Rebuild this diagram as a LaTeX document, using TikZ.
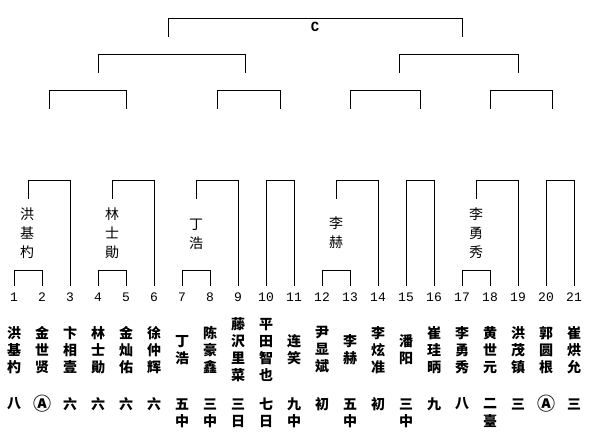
\documentclass[tikz,border=0pt]{standalone}
\usepackage{fontspec}
\newfontfamily\cjk{Noto Sans CJK SC}
\newfontfamily\monof{Liberation Mono}
\newcommand\circA{{\fontsize{18}{14}\selectfont Ⓐ}}
\tikzset{
  brk/.style={line width=1pt, line cap=rect},
  numlbl/.style={font=\monof\fontsize{13}{13}\selectfont, inner sep=0pt},
  namelbl/.style={font=\cjk\bfseries\fontsize{14}{17}\selectfont, align=center, inner sep=0pt},
  ranklbl/.style={font=\cjk\bfseries\fontsize{14}{14}\selectfont, inner sep=0pt},
  winlbl/.style={font=\cjk\fontsize{14}{19}\selectfont, align=center, inner sep=0pt},
  ctitle/.style={font=\monof\bfseries\fontsize{14}{14}\selectfont, inner sep=0pt}
}
\begin{document}
\begin{tikzpicture}[x=1pt,y=-1pt]
\useasboundingbox (0,0) rectangle (589,432);
% top level
\draw[brk] (168,36) -- (168,18) -- (462,18) -- (462,36);
\node[ctitle] (final) at (315,27) {C};
% second level
\draw[brk] (98,72) -- (98,54) -- (245,54) -- (245,72);
\draw[brk] (399,72) -- (399,54) -- (518,54) -- (518,72);
% third level
\foreach \a/\b in {49/126, 217/280, 350/420, 490/552}
  \draw[brk] (\a,108) -- (\a,90) -- (\b,90) -- (\b,108);
% fourth level: left short, right long
\foreach \a/\b in {28/70, 112/154, 196/238, 336/378, 476/518}
  \draw[brk] (\a,198) -- (\a,180) -- (\b,180) -- (\b,285);
% fourth level: boxes
\foreach \a/\b in {266/294, 406/434, 546/574}
  \draw[brk] (\a,285) -- (\a,180) -- (\b,180) -- (\b,285);
% bottom boxes
\foreach \a/\b in {14/42, 98/126, 182/210, 322/350, 462/490}
  \draw[brk] (\a,285) -- (\a,270) -- (\b,270) -- (\b,285);
% winners
\node[winlbl] (w1) at (27,233) {洪\\基\\杓};
\node[winlbl] (w2) at (112,233) {林\\士\\勛};
\node[winlbl] (w3) at (196,234) {丁\\浩};
\node[winlbl] (w4) at (336,233) {李\\赫};
\node[winlbl] (w5) at (476,233) {李\\勇\\秀};
% players
\foreach \i/\nm/\ra/\rb in {
  1/洪\\基\\杓/八/,
  2/金\\世\\贤/\circA/,
  3/卞\\相\\壹/六/,
  4/林\\士\\勛/六/,
  5/金\\灿\\佑/六/,
  6/徐\\仲\\辉/六/,
  7/丁\\浩/五/中,
  8/陈\\豪\\鑫/三/中,
  9/藤\\沢\\里\\菜/三/日,
  10/平\\田\\智\\也/七/日,
  11/连\\笑/九/中,
  12/尹\\显\\斌/初/,
  13/李\\赫/五/中,
  14/李\\炫\\准/初/,
  15/潘\\阳/三/中,
  16/崔\\珪\\昞/九/,
  17/李\\勇\\秀/八/,
  18/黄\\世\\元/二/臺,
  19/洪\\茂\\镇/三/,
  20/郭\\圆\\根/\circA/,
  21/崔\\烘\\允/三/}
{
  \pgfmathsetmacro\xx{14+28*(\i-1)}
  \node[numlbl] (num\i) at (\xx,297) {\i};
  \node[namelbl] (p\i) at (\xx,350) {\nm};
  \node[ranklbl] (ra\i) at (\xx,404) {\ra};
  \node[ranklbl] (rb\i) at (\xx,421) {\rb};
}
\end{tikzpicture}
\end{document}
